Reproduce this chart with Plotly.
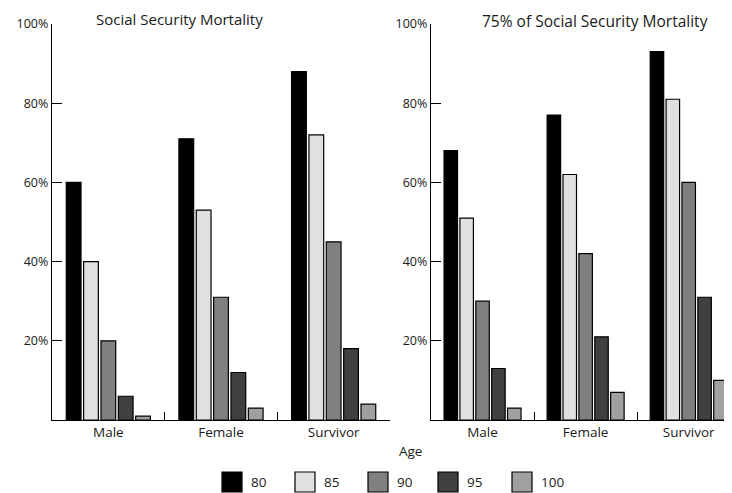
import plotly.graph_objects as go

categories = ["Male", "Female", "Survivor"]
ages = ["80", "85", "90", "95", "100"]
colors = ["#000000", "#e0e0e0", "#808080", "#404040", "#a0a0a0"]

# Social Security Mortality (% surviving to age)
ss_80 = [60, 71, 88]
ss_85 = [40, 53, 72]
ss_90 = [20, 31, 45]
ss_95 = [6, 12, 18]
ss_100 = [1, 3, 4]

# 75% of Social Security Mortality
p75_80 = [68, 77, 93]
p75_85 = [51, 62, 81]
p75_90 = [30, 42, 60]
p75_95 = [13, 21, 31]
p75_100 = [3, 7, 10]

ss_series = [ss_80, ss_85, ss_90, ss_95, ss_100]
p75_series = [p75_80, p75_85, p75_90, p75_95, p75_100]

OFF = 8  # page body margin
W, H = 732 - OFF, 493 - OFF
# target screen pixel geometry
SL, ST, SB = 52, 24, 420
ML, MT = SL - OFF, ST - OFF
MR = 0
MB = H - (SB - OFF)
PW, PH = W - ML - MR, H - MT - MB

def px(x):  # screen px -> paper
    return (x - OFF - ML) / PW

def py(y):
    return 1 - (y - OFF - MT) / PH

FONT = "Open Sans"
TXT = "#1a1a1a"

fig = go.Figure()
for i, age in enumerate(ages):
    fig.add_trace(go.Bar(x=categories, y=ss_series[i], name=age,
                         marker=dict(color=colors[i], line=dict(color="black", width=1.2)),
                         xaxis="x", yaxis="y", showlegend=False))
    fig.add_trace(go.Bar(x=categories, y=p75_series[i], name=age,
                         marker=dict(color=colors[i], line=dict(color="black", width=1.2)),
                         xaxis="x2", yaxis="y2", showlegend=False))

yax = dict(range=[0, 100], tickvals=[20, 40, 60, 80, 100],
           ticktext=["20%", "40%", "60%", "80%", "100%"],
           ticks="inside", ticklen=10, tickwidth=1.3, tickcolor="black",
           showline=True, linecolor="black", linewidth=1.3,
           showgrid=False, zeroline=False,
           tickfont=dict(family=FONT, size=12.5, color=TXT))
xax = dict(type="category", tickson="boundaries", ticks="inside", ticklen=8,
           tickwidth=1.3, tickcolor="black", showline=True, linecolor="black",
           linewidth=1.3, showgrid=False,
           tickfont=dict(family=FONT, size=13.5, color=TXT))

fig.update_layout(
    width=W, height=H,
    margin=dict(l=ML, r=MR, t=MT, b=MB),
    plot_bgcolor="white", paper_bgcolor="white",
    barmode="group", bargap=0.23, bargroupgap=0.15,
    xaxis=dict(**xax, domain=[0, px(390)], range=[-0.5, 2.5], anchor="y"),
    yaxis=dict(**yax, anchor="x"),
    xaxis2=dict(**xax, domain=[px(431), 1], range=[-0.5, 2.42], anchor="y2"),
    yaxis2=dict(**yax, anchor="x2"),
    showlegend=False,
)

ann = [
    dict(text="Social Security Mortality", x=px(179), y=py(19), xref="paper", yref="paper",
         showarrow=False, font=dict(family=FONT, size=15, color=TXT), xanchor="center", yanchor="middle"),
    dict(text="75% of Social Security Mortality", x=px(595), y=py(21), xref="paper", yref="paper",
         showarrow=False, font=dict(family=FONT, size=15.5, color=TXT), xanchor="center", yanchor="middle"),
    dict(text="Age", x=px(410), y=py(451), xref="paper", yref="paper",
         showarrow=False, font=dict(family=FONT, size=13.5, color=TXT), xanchor="center", yanchor="middle"),
]
shapes = []
box_x = [222, 295, 368, 438, 512]
for i, age in enumerate(ages):
    x0 = box_x[i]
    shapes.append(dict(type="rect", xref="paper", yref="paper",
                       x0=px(x0), x1=px(x0 + 20), y0=py(492), y1=py(472),
                       fillcolor=colors[i], line=dict(color="black", width=1.2)))
    ann.append(dict(text=age, x=px(x0 + 27), y=py(482), xref="paper", yref="paper",
                    showarrow=False, font=dict(family=FONT, size=13.5, color=TXT),
                    xanchor="left", yanchor="middle"))

fig.update_layout(annotations=ann, shapes=shapes)
fig.write_html("out.html")
